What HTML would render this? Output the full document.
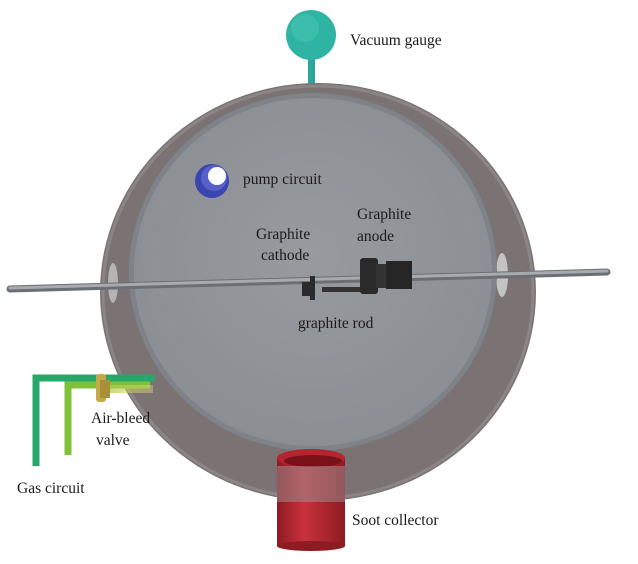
<!DOCTYPE html>
<html><head><meta charset="utf-8"><style>
html,body{margin:0;padding:0;background:#fff;}
svg text{font-family:"Liberation Serif",serif;font-size:15.5px;fill:#1a1a1a;}
</style></head><body>
<svg width="638" height="559" viewBox="0 0 638 559" xmlns="http://www.w3.org/2000/svg">
<defs>
<linearGradient id="red" x1="0" x2="1"><stop offset="0" stop-color="#8e1a22"/><stop offset="0.4" stop-color="#c9323c"/><stop offset="1" stop-color="#8e1a22"/></linearGradient>
<linearGradient id="valve" x1="0" x2="1"><stop offset="0" stop-color="#a8c43a"/><stop offset="1" stop-color="#e8d87a" stop-opacity="0.5"/></linearGradient>
<radialGradient id="disk" cx="0.5" cy="0.45" r="0.6"><stop offset="0" stop-color="#979ba0"/><stop offset="1" stop-color="#8a8e93"/></radialGradient>
</defs>
<!-- gauge -->
<rect x="308" y="55" width="7" height="30" fill="#2aa79a"/>
<circle cx="311" cy="35" r="25" fill="#2fb3a3"/>
<circle cx="305" cy="28" r="14" fill="#4cc9b8" opacity="0.5"/>
<text x="350" y="45">Vacuum gauge</text>
<!-- shell -->
<ellipse cx="318" cy="292" rx="218" ry="209" fill="#7b7373"/>
<ellipse cx="318" cy="292" rx="215" ry="206" fill="none" stroke="#8b8585" stroke-width="3"/>
<!-- side windows -->
<ellipse cx="113" cy="283" rx="5" ry="20" fill="#b5b3b3"/>
<ellipse cx="502" cy="275" rx="6" ry="22" fill="#c4c2c2"/>
<!-- front disk -->
<ellipse cx="313" cy="272" rx="184" ry="179" fill="#7d8389"/>
<ellipse cx="313" cy="272" rx="179" ry="174" fill="url(#disk)"/>
<!-- pump -->
<circle cx="212" cy="181" r="17" fill="#3a44b0"/>
<circle cx="214" cy="178" r="13" fill="#5561c8"/>
<circle cx="217" cy="176" r="9" fill="#fff"/>
<text x="243" y="184">pump circuit</text>
<!-- rod -->
<line x1="10" y1="289" x2="607" y2="272" stroke="#6b6f73" stroke-width="7" stroke-linecap="round"/>
<line x1="10" y1="288" x2="607" y2="271" stroke="#a7abae" stroke-width="3" stroke-linecap="round"/>
<!-- cathode -->
<rect x="302" y="282" width="12" height="14" fill="#2b2b2b"/>
<rect x="310" y="276" width="5" height="24" fill="#2b2b2b"/>
<rect x="322" y="287" width="42" height="5" fill="#333"/>
<!-- anode -->
<rect x="360" y="258" width="18" height="36" rx="3" fill="#2a2a2a"/>
<rect x="376" y="264" width="12" height="24" fill="#333"/>
<rect x="386" y="261" width="26" height="28" fill="#262626"/>
<text x="256" y="239">Graphite</text>
<text x="261" y="260">cathode</text>
<text x="357" y="219">Graphite</text>
<text x="357" y="241">anode</text>
<text x="298" y="328">graphite rod</text>
<!-- gas pipes -->
<path d="M36 466 V378 H155" fill="none" stroke="#27a86a" stroke-width="7"/>
<path d="M68 455 V385 H150" fill="none" stroke="#7fc23a" stroke-width="7"/>
<rect x="98" y="385" width="55" height="8" fill="url(#valve)" opacity="0.8"/>
<rect x="96" y="374" width="10" height="28" rx="3" fill="#c4a94a"/>
<rect x="100" y="380" width="10" height="18" fill="#a8903a"/>
<text x="91" y="423">Air-bleed</text>
<text x="96" y="445">valve</text>
<text x="17" y="493">Gas circuit</text>
<!-- soot collector -->
<rect x="277" y="458" width="68" height="88" fill="url(#red)"/>
<ellipse cx="311" cy="546" rx="34" ry="5" fill="#8e1a22"/>
<ellipse cx="311" cy="458" rx="34" ry="9" fill="#b52530"/>
<ellipse cx="313" cy="461" rx="29" ry="6" fill="#7a1018"/>
<rect x="277" y="466" width="68" height="36" fill="#9a9595" opacity="0.5"/>
<text x="352" y="525">Soot collector</text>
</svg>
</body></html>
